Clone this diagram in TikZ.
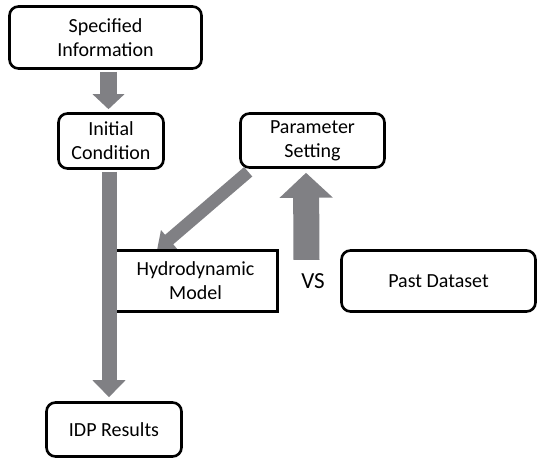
\documentclass[tikz,border=0pt]{standalone}
\usepackage{fontspec}
\setmainfont{Carlito}
\usetikzlibrary{arrows.meta}
\definecolor{arrowgray}{RGB}{128,128,132}

\begin{document}
\begin{tikzpicture}[x=1pt,y=-1pt,
  box/.style={draw, line width=2.6pt, rounded corners=9pt, align=center, inner sep=0pt,
    font=\fontsize{20}{24}\selectfont},
  flatbox/.style={box, sharp corners},
  fatarrow/.style={draw=arrowgray, line width=#1}]
\useasboundingbox (0,0) rectangle (539,462);
\node[box, minimum width=192, minimum height=62] (spec) at (105.5,37.5) {Specified\\Information};
\node[box, minimum width=105, minimum height=55] (init) at (111,141) {Initial\\Condition};
\node[box, minimum width=144, minimum height=54] (param) at (312.5,140.5) {Parameter\\Setting};
\node[box, minimum width=135, minimum height=54] (idp) at (114,429.5) {IDP Results};
\node[box, minimum width=194, minimum height=61] (past) at (438.5,281) {Past Dataset};
\node[font=\fontsize{23}{26}\selectfont] (vs) at (313,281) {VS};
% arrows
\draw[fatarrow=17pt, -{Triangle[width=31pt,length=15pt]}, shorten <=2pt, shorten >=3pt]
  ([xshift=3pt]spec.south) -- ([xshift=-2.5pt]init.north);
\draw[fatarrow=26pt, -{Triangle[width=52pt,length=25pt]}, shorten >=4pt]
  ([xshift=-6.5pt,yshift=10pt]vs.north) -- ([xshift=-6.5pt]param.south);
\draw[fatarrow=12.5pt, -{Triangle[width=24pt,length=16pt]}]
  ([xshift=9pt,yshift=-3pt]param.south west) -- (157,250) coordinate (hydrotip);
\node[flatbox, minimum width=164.5, minimum height=61] (hydro) at (195.5,281) {Hydrodynamic\\Model};
\draw[fatarrow=15pt, -{Triangle[width=32pt,length=17pt]}, shorten <=2pt, shorten >=4pt]
  ([xshift=-2pt]init.south) -- ([xshift=-5pt]idp.north);
\end{tikzpicture}
\end{document}
